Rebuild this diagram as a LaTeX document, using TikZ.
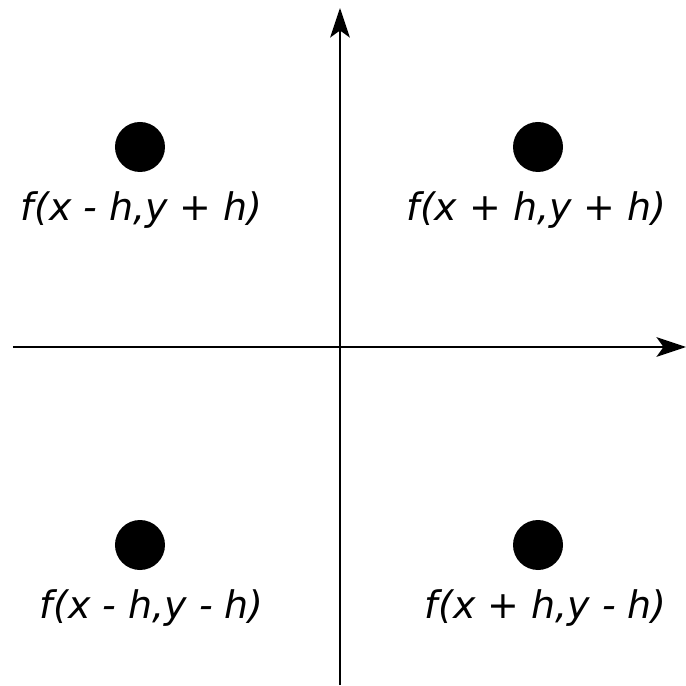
\documentclass[tikz,border=0pt]{standalone}
\usepackage{fontspec}
\setmainfont{DejaVu Sans}
\usetikzlibrary{arrows.meta}
\tikzset{
  axis/.style={line width=1.4pt,-{Stealth[length=21pt,width=14pt,inset=5pt]}},
  pt/.style={circle,fill=black,inner sep=0pt,minimum size=1.25cm},
  lab/.style={font=\fontsize{27}{32}\selectfont\itshape,inner sep=0pt,anchor=east}
}
\begin{document}
\begin{tikzpicture}[x=2.5cm,y=2.5cm]
\useasboundingbox (-3.40,-3.39) rectangle (3.46,3.47);
\draw[axis] (-3.27,0)--(3.46,0);
\draw[axis] (0,-3.38)--(0,3.39);
\node[pt] (tl) at (-2,2.00) {};
\node[pt] (tr) at (1.98,2.00) {};
\node[pt] (bl) at (-2,-1.98) {};
\node[pt] (br) at (1.98,-1.98) {};
\node[lab] (ltl) at (-0.77,1.37) {f(x - h,y + h)};
\node[lab] (ltr) at (3.27,1.37) {f(x + h,y + h)};
\node[lab] (lbl) at (-0.76,-2.61) {f(x - h,y - h)};
\node[lab] (lbr) at (3.27,-2.61) {f(x + h,y - h)};
\end{tikzpicture}
\end{document}
